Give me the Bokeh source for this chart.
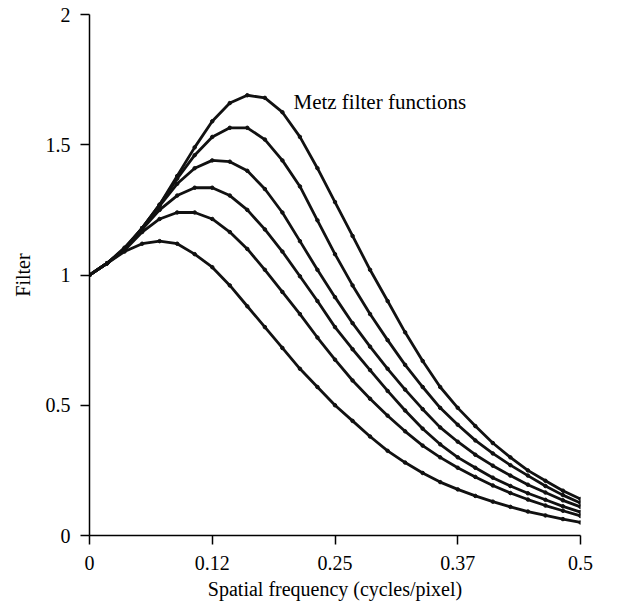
from bokeh.plotting import figure
from bokeh.models import Range1d, FixedTicker, Label
from bokeh.embed import file_html
from bokeh.resources import INLINE

# Spatial frequency samples (cycles/pixel)
freq = [0, 0.0179, 0.0357, 0.0536, 0.0714, 0.0893, 0.1071, 0.125, 0.1429, 0.1607,
        0.1786, 0.1964, 0.2143, 0.2321, 0.25, 0.2679, 0.2857, 0.3036, 0.3214, 0.3393,
        0.3571, 0.375, 0.3929, 0.4107, 0.4286, 0.4464, 0.4643, 0.4821, 0.5]

# Metz filter curves, top to bottom
metz_1 = [1.00, 1.045, 1.105, 1.18, 1.27, 1.38, 1.49, 1.59, 1.66, 1.69,
          1.68, 1.625, 1.53, 1.41, 1.28, 1.15, 1.02, 0.90, 0.78, 0.67,
          0.57, 0.49, 0.42, 0.355, 0.30, 0.25, 0.21, 0.172, 0.14]
metz_2 = [1.00, 1.045, 1.10, 1.18, 1.27, 1.37, 1.46, 1.53, 1.565, 1.565,
          1.52, 1.44, 1.34, 1.21, 1.08, 0.96, 0.85, 0.75, 0.655, 0.57,
          0.49, 0.425, 0.365, 0.315, 0.27, 0.23, 0.19, 0.155, 0.125]
metz_3 = [1.00, 1.045, 1.10, 1.18, 1.265, 1.35, 1.41, 1.44, 1.435, 1.40,
          1.33, 1.24, 1.13, 1.02, 0.915, 0.815, 0.725, 0.64, 0.56, 0.485,
          0.415, 0.36, 0.31, 0.268, 0.23, 0.195, 0.165, 0.135, 0.11]
metz_4 = [1.00, 1.045, 1.10, 1.175, 1.25, 1.305, 1.335, 1.335, 1.305, 1.25,
          1.175, 1.09, 0.995, 0.90, 0.80, 0.715, 0.635, 0.555, 0.48, 0.41,
          0.35, 0.30, 0.26, 0.222, 0.19, 0.162, 0.137, 0.112, 0.09]
metz_5 = [1.00, 1.045, 1.095, 1.165, 1.215, 1.24, 1.24, 1.215, 1.165, 1.10,
          1.02, 0.935, 0.85, 0.76, 0.675, 0.595, 0.525, 0.46, 0.40, 0.345,
          0.30, 0.26, 0.225, 0.192, 0.163, 0.138, 0.115, 0.095, 0.075]
metz_6 = [1.00, 1.045, 1.09, 1.12, 1.13, 1.12, 1.08, 1.03, 0.96, 0.88,
          0.80, 0.72, 0.64, 0.57, 0.50, 0.44, 0.38, 0.325, 0.28, 0.24,
          0.205, 0.177, 0.152, 0.13, 0.11, 0.092, 0.077, 0.063, 0.05]
curves = [metz_1, metz_2, metz_3, metz_4, metz_5, metz_6]

x_ticks = [0, 0.125, 0.25, 0.375, 0.5]
x_tick_labels = ["0", "0.12", "0.25", "0.37", "0.5"]
y_ticks = [0, 0.5, 1, 1.5, 2]
y_tick_labels = ["0", "0.5", "1", "1.5", "2"]

FONT = "Liberation Serif"

p = figure(width=627, height=607, output_backend="svg", toolbar_location=None,
           x_range=Range1d(0, 0.5), y_range=Range1d(0, 2),
           min_border_left=89, min_border_right=47, min_border_top=14, min_border_bottom=72)
p.outline_line_color = None
p.xgrid.visible = False
p.ygrid.visible = False
p.background_fill_color = "white"

for ys in curves:
    p.line(freq, ys, line_color="#111111", line_width=2.8)
    p.scatter(freq, ys, size=3.5, color="#111111")

for ax in (p.xaxis[0], p.yaxis[0]):
    ax.axis_line_color = "black"
    ax.axis_line_width = 1.5
    ax.major_tick_line_color = "black"
    ax.major_tick_line_width = 1.5
    ax.major_tick_in = 0
    ax.major_tick_out = 9
    ax.minor_tick_line_color = None
    ax.major_label_text_font = FONT
    ax.major_label_text_font_size = "20px"
    ax.major_label_text_color = "black"
    ax.axis_label_text_font = FONT
    ax.axis_label_text_font_size = "20px"
    ax.axis_label_text_font_style = "normal"
    ax.axis_label_text_color = "black"

p.xaxis.ticker = FixedTicker(ticks=x_ticks)
p.xaxis.major_label_overrides = {t: s for t, s in zip(x_ticks, x_tick_labels)}
p.xaxis.major_label_standoff = 11
p.xaxis.axis_label = "Spatial frequency (cycles/pixel)"
p.xaxis.axis_label_standoff = 5

p.yaxis.ticker = FixedTicker(ticks=y_ticks)
p.yaxis.major_label_overrides = {t: s for t, s in zip(y_ticks, y_tick_labels)}
p.yaxis.major_label_standoff = 10
p.yaxis.axis_label = "Filter"
p.yaxis.axis_label_standoff = 9

p.add_layout(Label(x=0.2077, y=1.665, text="Metz filter functions",
                   text_font=FONT, text_font_size="21px", text_color="black",
                   text_align="left", text_baseline="alphabetic"))

open("out.html", "w").write(file_html(p, INLINE))
